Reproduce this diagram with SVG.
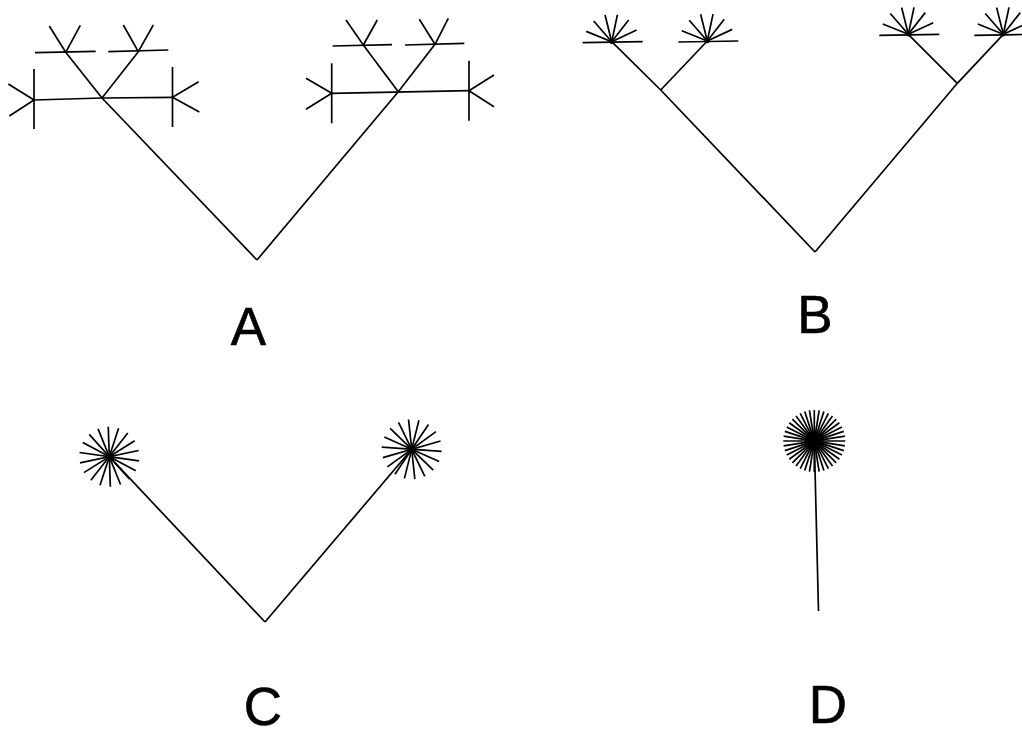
<svg xmlns="http://www.w3.org/2000/svg" xmlns:xlink="http://www.w3.org/1999/xlink" width="1022" height="737" viewBox="0 0 1022 737">
<style>
line,path{stroke:#000;stroke-width:1.7;fill:none;stroke-linecap:butt}
.lbl{font-family:"Liberation Sans",Arial,sans-serif;font-size:53px;fill:#000;stroke:#000;stroke-width:0.6;text-anchor:middle}
</style>
<defs>
<g id="fan">
<line x1="0" y1="0" x2="27.5" y2="0" transform="rotate(-25)"/>
<line x1="0" y1="0" x2="27.5" y2="0" transform="rotate(-52)"/>
<line x1="0" y1="0" x2="27.5" y2="0" transform="rotate(-78)"/>
<line x1="0" y1="0" x2="27.5" y2="0" transform="rotate(-104)"/>
<line x1="0" y1="0" x2="27.5" y2="0" transform="rotate(-131)"/>
<line x1="0" y1="0" x2="27.5" y2="0" transform="rotate(-158)"/>
<line x1="-29" y1="1" x2="31" y2="0"/>
<circle r="2.2" fill="#000"/>
</g>
<g id="star18">
<line x1="-30" y1="0" x2="30" y2="0" transform="rotate(0)"/>
<line x1="-30" y1="0" x2="30" y2="0" transform="rotate(20)"/>
<line x1="-30" y1="0" x2="30" y2="0" transform="rotate(40)"/>
<line x1="-30" y1="0" x2="30" y2="0" transform="rotate(60)"/>
<line x1="-30" y1="0" x2="30" y2="0" transform="rotate(80)"/>
<line x1="-30" y1="0" x2="30" y2="0" transform="rotate(100)"/>
<line x1="-30" y1="0" x2="30" y2="0" transform="rotate(120)"/>
<line x1="-30" y1="0" x2="30" y2="0" transform="rotate(140)"/>
<line x1="-30" y1="0" x2="30" y2="0" transform="rotate(160)"/>
<circle r="3" fill="#000"/>
</g>
<g id="star40">
<line x1="-31" y1="0" x2="31" y2="0" transform="rotate(0)"/>
<line x1="-31" y1="0" x2="31" y2="0" transform="rotate(9)"/>
<line x1="-31" y1="0" x2="31" y2="0" transform="rotate(18)"/>
<line x1="-31" y1="0" x2="31" y2="0" transform="rotate(27)"/>
<line x1="-31" y1="0" x2="31" y2="0" transform="rotate(36)"/>
<line x1="-31" y1="0" x2="31" y2="0" transform="rotate(45)"/>
<line x1="-31" y1="0" x2="31" y2="0" transform="rotate(54)"/>
<line x1="-31" y1="0" x2="31" y2="0" transform="rotate(63)"/>
<line x1="-31" y1="0" x2="31" y2="0" transform="rotate(72)"/>
<line x1="-31" y1="0" x2="31" y2="0" transform="rotate(81)"/>
<line x1="-31" y1="0" x2="31" y2="0" transform="rotate(90)"/>
<line x1="-31" y1="0" x2="31" y2="0" transform="rotate(99)"/>
<line x1="-31" y1="0" x2="31" y2="0" transform="rotate(108)"/>
<line x1="-31" y1="0" x2="31" y2="0" transform="rotate(117)"/>
<line x1="-31" y1="0" x2="31" y2="0" transform="rotate(126)"/>
<line x1="-31" y1="0" x2="31" y2="0" transform="rotate(135)"/>
<line x1="-31" y1="0" x2="31" y2="0" transform="rotate(144)"/>
<line x1="-31" y1="0" x2="31" y2="0" transform="rotate(153)"/>
<line x1="-31" y1="0" x2="31" y2="0" transform="rotate(162)"/>
<line x1="-31" y1="0" x2="31" y2="0" transform="rotate(171)"/>
<circle r="9.5" fill="#000"/>
</g>
</defs>
<rect width="1022" height="737" fill="#fff"/>

<g id="connectors">
<line x1="257" y1="260" x2="102" y2="98"/>
<line x1="102" y1="98" x2="65.7" y2="52.3"/>
<line x1="102" y1="98" x2="138.3" y2="51.7"/>
<line x1="257" y1="260" x2="398.3" y2="91.7"/>
<line x1="398.3" y1="91.7" x2="363.3" y2="45"/>
<line x1="398.3" y1="91.7" x2="435" y2="44.3"/>
<line x1="815" y1="252" x2="660.7" y2="90"/>
<line x1="660.7" y1="90" x2="611.7" y2="41.7"/>
<line x1="660.7" y1="90" x2="707.3" y2="41"/>
<line x1="815" y1="252" x2="957.3" y2="83.3"/>
<line x1="957.3" y1="83.3" x2="908.3" y2="34.3"/>
<line x1="957.3" y1="83.3" x2="1003.3" y2="34.3"/>
<line x1="265" y1="622" x2="109.3" y2="456.7"/>
<line x1="265" y1="622" x2="411.7" y2="449.3"/>
<line x1="818.5" y1="611" x2="814.3" y2="441"/>
</g>

<g id="nodeA1">
<line x1="34" y1="100" x2="102" y2="98"/>
<line x1="102" y1="98" x2="172.7" y2="97.3"/>
<line x1="34" y1="69" x2="34" y2="129"/>
<line x1="34" y1="100" x2="8.3" y2="84"/>
<line x1="34" y1="100" x2="9.3" y2="116"/>
<line x1="172.5" y1="67" x2="172.5" y2="127"/>
<line x1="172.5" y1="97.3" x2="198.7" y2="81.7"/>
<line x1="172.5" y1="97.3" x2="199.3" y2="112"/>
</g>
<g id="nodeA1a">
<line x1="35" y1="52.7" x2="95.7" y2="51.3"/>
<line x1="65.7" y1="52.3" x2="49.3" y2="26"/>
<line x1="65.7" y1="52.3" x2="80.3" y2="25.3"/>
</g>
<g id="nodeA1b">
<line x1="108.3" y1="51.7" x2="168.3" y2="50"/>
<line x1="138.3" y1="51.7" x2="123.3" y2="25"/>
<line x1="138.3" y1="51.7" x2="153.3" y2="25"/>
</g>
<g id="nodeA2">
<line x1="331.7" y1="93.3" x2="469" y2="90.7"/>
<line x1="331.7" y1="63.3" x2="331.7" y2="123.3"/>
<line x1="331.7" y1="93.3" x2="306" y2="78.3"/>
<line x1="331.7" y1="93.3" x2="306" y2="109.3"/>
<line x1="469" y1="60.7" x2="469" y2="120.7"/>
<line x1="469" y1="90.7" x2="494" y2="75"/>
<line x1="469" y1="90.7" x2="494" y2="106.7"/>
</g>
<g id="nodeA2a">
<line x1="332.7" y1="46" x2="392" y2="44.7"/>
<line x1="363.3" y1="45" x2="346" y2="20"/>
<line x1="363.3" y1="45" x2="377.3" y2="20"/>
</g>
<g id="nodeA2b">
<line x1="405" y1="45" x2="464.3" y2="43.3"/>
<line x1="435" y1="44.3" x2="419.3" y2="19.3"/>
<line x1="435" y1="44.3" x2="448.3" y2="18.3"/>
</g>

<g id="nodeB1"><use xlink:href="#fan" transform="translate(611.7,41.7)"/></g>
<g id="nodeB2"><use xlink:href="#fan" transform="translate(707.3,41)"/></g>
<g id="nodeB3"><use xlink:href="#fan" transform="translate(908.3,34.3)"/></g>
<g id="nodeB4"><use xlink:href="#fan" transform="translate(1003.3,34.3)"/></g>

<g id="nodeC1"><use xlink:href="#star18" transform="translate(109.3,456.7) rotate(8)"/></g>
<g id="nodeC2"><use xlink:href="#star18" transform="translate(411.7,449.3) rotate(4)"/></g>

<g id="nodeD"><use xlink:href="#star40" transform="translate(814.3,441)"/></g>

<g id="labels">
<text class="lbl" x="248.5" y="345">A</text>
<text class="lbl" x="815" y="333">B</text>
<text class="lbl" x="263" y="725">C</text>
<text class="lbl" x="828" y="723">D</text>
</g>
</svg>
